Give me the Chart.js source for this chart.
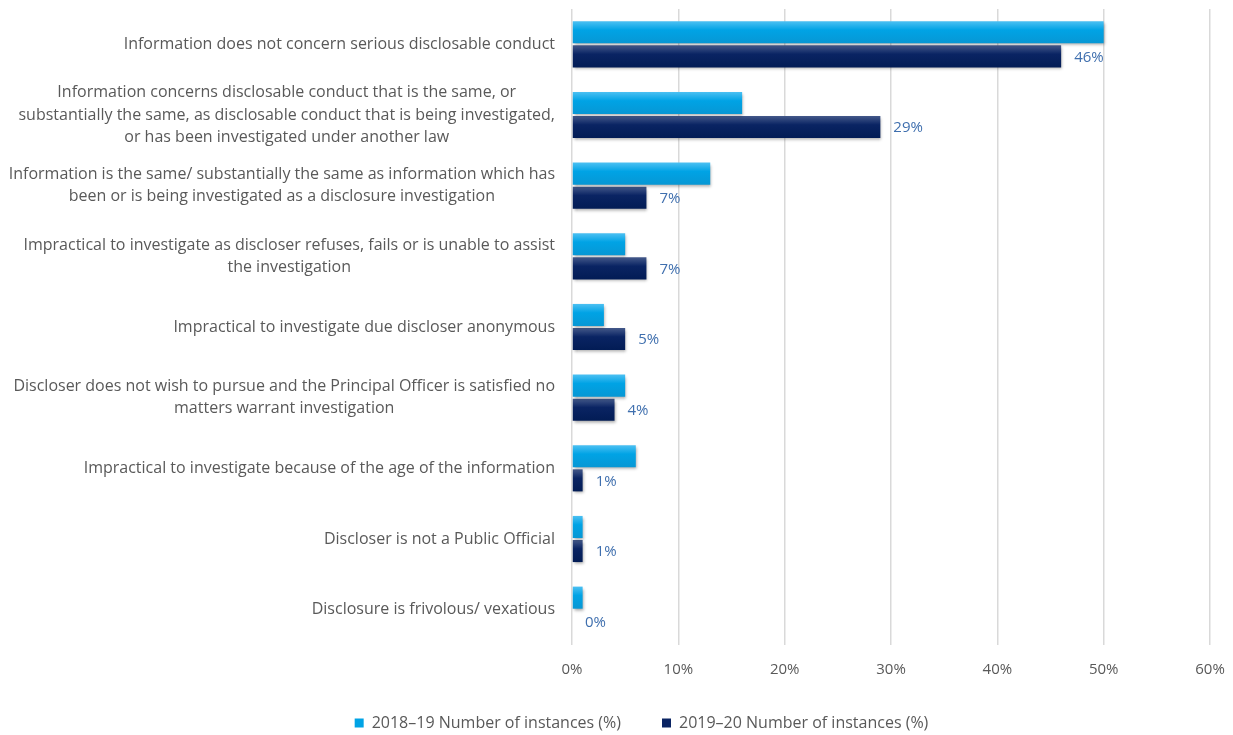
<!DOCTYPE html>
<html>
<head>
<meta charset="utf-8">
<title>Reasons for not investigating disclosures</title>
<script src="https://cdn.jsdelivr.net/npm/chart.js@4/dist/chart.umd.min.js"></script>
<style>
  html, body { margin: 0; padding: 0; background: #ffffff; }
  #wrap { width: 1233px; height: 735px; position: relative; }
</style>
</head>
<body>
<div id="wrap"><canvas id="chart"></canvas></div>
<script>
// Reasons (each entry is the list of lines of the wrapped label)
const categories = [
  ["Information does not concern serious disclosable conduct"],
  ["Information concerns disclosable conduct that is the same, or",
   "substantially the same, as disclosable conduct that is being investigated,",
   "or has been investigated under another law"],
  ["Information is the same/ substantially the same as information which has",
   "been or is being investigated as a disclosure investigation"],
  ["Impractical to investigate as discloser refuses, fails or is unable to assist",
   "the investigation"],
  ["Impractical to investigate due discloser anonymous"],
  ["Discloser does not wish to pursue and the Principal Officer is satisfied no",
   "matters warrant investigation"],
  ["Impractical to investigate because of the age of the information"],
  ["Discloser is not a Public Official "],
  ["Disclosure is frivolous/ vexatious"]
];

const seriesNames = ["2018\u201319 Number of instances (%)", "2019\u201320 Number of instances (%)"];
const values2018 = [50, 16, 13, 5, 3, 5, 6, 1, 1];
const values2019 = [46, 29, 7, 7, 5, 4, 1, 1, 0];
const xTicks = [0, 10, 20, 30, 40, 50, 60];

const FONT = "'Open Sans', Lato, sans-serif";
const LABEL_SIZE = 16;
const TICK_SIZE = 15;
const TEXT_GREY = "#595959";
const LABEL_BLUE = "#3f6fae";
const CAT_PCT = 0.68;
const BAR_PCT = 0.92;
const AXIS_HEIGHT = 40;    // room for the percentage tick labels
const LEGEND_GAP = 41;     // space between legend entries
const LEGEND_HEIGHT = 50;  // room kept below the axis for the legend
const LEGEND_SHIFT_X = 50; // nudges the legend row to the right
const LEGEND_SHIFT_Y = -11;

const palette = [
  { top: "#4cc0f2", base: "#00a3e5", bottom: "#0797d4" },
  { top: "#44598a", base: "#0a2463", bottom: "#021c55" }
];

// Vertical shading for each bar, placed from the category scale
function barFill(ctx) {
  const p = palette[ctx.datasetIndex];
  const chart = ctx.chart;
  const y = chart.scales && chart.scales.y;
  if (ctx.type !== 'data' || !y) return p.base;
  const c = y.getPixelForValue(ctx.dataIndex);
  const band = (y.bottom - y.top) / categories.length;
  if (!isFinite(c) || !isFinite(band) || band <= 0) return p.base;
  const slot = band * CAT_PCT / 2;
  const h = slot * BAR_PCT;
  const y0 = c - slot + ctx.datasetIndex * slot + (slot - h) / 2;
  const g = chart.ctx.createLinearGradient(0, y0, 0, y0 + h);
  g.addColorStop(0, p.top);
  g.addColorStop(0.4, p.base);
  g.addColorStop(1, p.bottom);
  return g;
}

// Soft drop shadow under the bars
const barShadow = {
  id: 'barShadow',
  beforeDatasetsDraw(chart) {
    const ctx = chart.ctx;
    ctx.save();
    ctx.shadowColor = 'rgba(0,0,0,0.35)';
    ctx.shadowBlur = 3;
    ctx.shadowOffsetX = 1;
    ctx.shadowOffsetY = 2;
  },
  afterDatasetsDraw(chart) {
    chart.ctx.restore();
  }
};

// Keeps the legend box compact while the entries stay widely spaced
const legendBox = {
  id: 'legendBox',
  beforeLayout(chart) {
    const lg = chart.legend;
    if (lg && !lg._compactFit) {
      const fit = lg.fit.bind(lg);
      lg.fit = function () { fit(); this.height = LEGEND_HEIGHT; };
      lg._compactFit = true;
    }
  },
  afterLayout(chart) {
    const lg = chart.legend;
    if (lg) {
      lg.left += LEGEND_SHIFT_X;
      lg.top += LEGEND_SHIFT_Y;
    }
  }
};

// Value labels at the end of the 2019–20 bars
const valueLabels = {
  id: 'valueLabels',
  afterDatasetsDraw(chart) {
    const ctx = chart.ctx;
    const meta = chart.getDatasetMeta(1);
    ctx.save();
    ctx.font = TICK_SIZE + "px " + FONT;
    ctx.fillStyle = LABEL_BLUE;
    ctx.textAlign = 'left';
    ctx.textBaseline = 'middle';
    meta.data.forEach((bar, i) => {
      ctx.fillText(values2019[i] + '%', bar.x + 13, bar.y + 1);
    });
    ctx.restore();
  }
};

// Wrapped category labels: lines centred on each other, block right-aligned to the axis
const categoryLabels = {
  id: 'categoryLabels',
  afterDraw(chart) {
    const ctx = chart.ctx;
    const y = chart.scales.y;
    const right = chart.chartArea.left - 17;
    const lineH = 22.5;
    ctx.save();
    ctx.font = LABEL_SIZE + "px " + FONT;
    ctx.fillStyle = TEXT_GREY;
    ctx.textAlign = 'center';
    ctx.textBaseline = 'middle';
    categories.forEach((lines, i) => {
      const maxW = Math.max(...lines.map(l => ctx.measureText(l.trimEnd()).width));
      const cx = right - maxW / 2;
      const cy = y.getPixelForValue(i);
      const start = cy - (lines.length - 1) * lineH / 2;
      lines.forEach((l, k) => ctx.fillText(l.trimEnd(), cx, start + k * lineH));
    });
    ctx.restore();
  }
};

new Chart(document.getElementById('chart'), {
  type: 'bar',
  data: {
    labels: categories,
    datasets: [
      { label: seriesNames[0], data: values2018, backgroundColor: barFill,
        categoryPercentage: CAT_PCT, barPercentage: BAR_PCT, borderWidth: 0 },
      { label: seriesNames[1], data: values2019, backgroundColor: barFill,
        categoryPercentage: CAT_PCT, barPercentage: BAR_PCT, borderWidth: 0 }
    ]
  },
  options: {
    indexAxis: 'y',
    responsive: true,
    maintainAspectRatio: false,
    animation: false,
    layout: { padding: { top: 9, right: 0, left: 0, bottom: 0 } },
    scales: {
      x: {
        min: 0, max: 60,
        afterBuildTicks(scale) { scale.ticks = xTicks.map(v => ({ value: v })); },
        afterFit(scale) { scale.paddingRight = 23; scale.height = AXIS_HEIGHT; },
        grid: { color: '#d9d9d9', lineWidth: 1.5, drawTicks: false },
        border: { display: false },
        ticks: {
          color: TEXT_GREY, font: { family: FONT, size: TICK_SIZE }, padding: 16,
          callback: v => v + '%'
        }
      },
      y: {
        grid: { display: false },
        border: { display: false },
        ticks: { display: false },
        afterFit(scale) { scale.width = 572; }
      }
    },
    plugins: {
      legend: {
        position: 'bottom',
        labels: {
          color: TEXT_GREY, font: { family: FONT, size: LABEL_SIZE },
          boxWidth: 9, boxHeight: 9, padding: LEGEND_GAP,
          generateLabels(chart) {
            return chart.data.datasets.map((d, i) => ({
              text: d.label, fillStyle: palette[i].base, strokeStyle: palette[i].base,
              lineWidth: 0, hidden: false, datasetIndex: i, fontColor: TEXT_GREY
            }));
          }
        }
      },
      tooltip: { enabled: false }
    }
  },
  plugins: [legendBox, barShadow, valueLabels, categoryLabels]
});
</script>
</body>
</html>
